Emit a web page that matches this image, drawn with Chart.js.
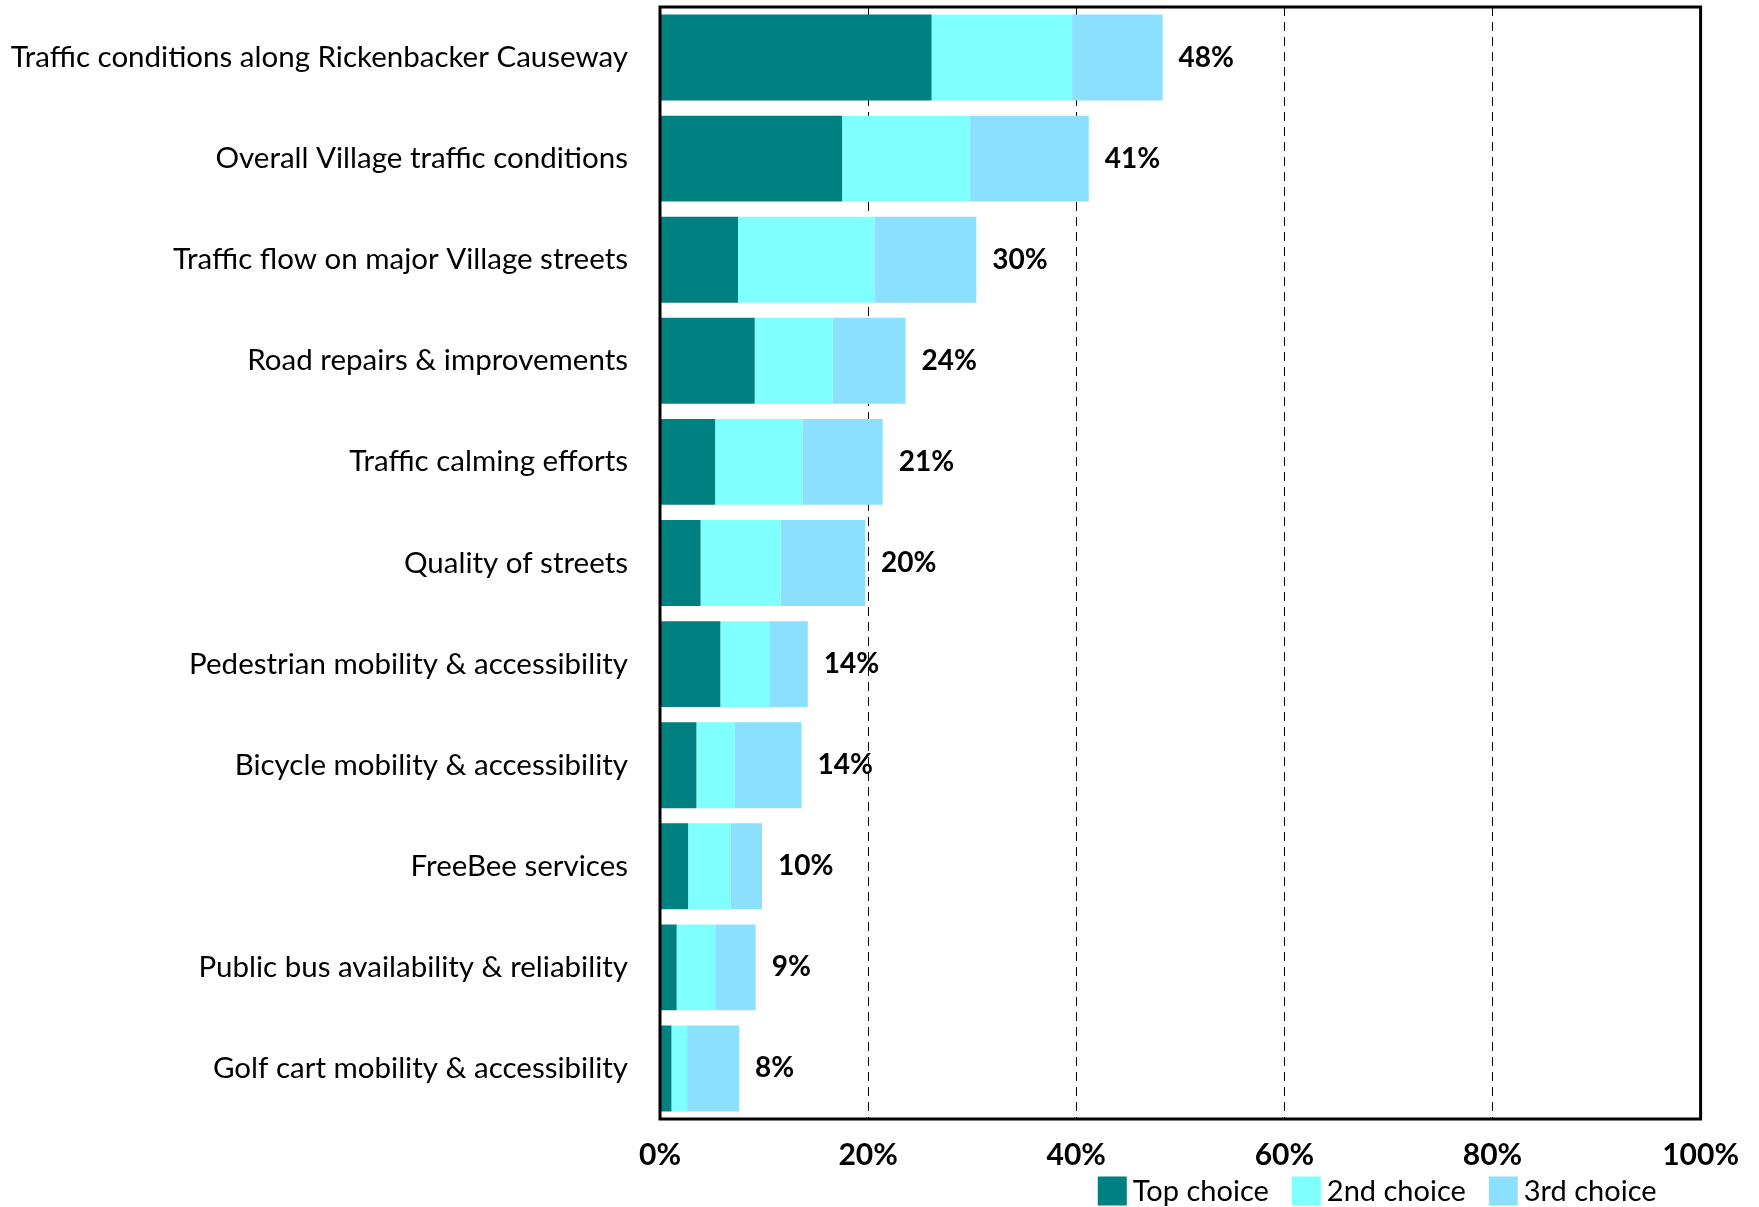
<!DOCTYPE html>
<html>
<head>
<meta charset="utf-8">
<title>Transportation priorities</title>
<script src="https://cdn.jsdelivr.net/npm/chart.js@4.4.1/dist/chart.umd.min.js"></script>
<style>
    html, body { margin: 0; padding: 0; background: #ffffff; }
</style>
</head>
<body>
<canvas id="priorityChart" width="1759" height="1207"></canvas>
<script>
var categories = [
    "Traffic conditions along Rickenbacker Causeway",
    "Overall Village traffic conditions",
    "Traffic flow on major Village streets",
    "Road repairs & improvements",
    "Traffic calming efforts",
    "Quality of streets",
    "Pedestrian mobility & accessibility",
    "Bicycle mobility & accessibility",
    "FreeBee services",
    "Public bus availability & reliability",
    "Golf cart mobility & accessibility"
];
var seriesNames = ["Top choice", "2nd choice", "3rd choice"];
var topChoice    = [26.1, 17.5, 7.5, 9.1, 5.3, 3.9, 5.8, 3.5, 2.7, 1.6, 1.1];
var secondChoice = [13.5, 12.3, 13.1, 7.5, 8.4, 7.7, 4.7, 3.7, 4.1, 3.7, 1.5];
var thirdChoice  = [8.7, 11.4, 9.8, 7.0, 7.7, 8.1, 3.7, 6.4, 3.0, 3.9, 5.0];
var xTicks = [0, 20, 40, 60, 80, 100];

var FONT = "Lato, 'Open Sans', sans-serif";

// total of the three choices for one row, shown at the end of the bar
function rowTotal(i) {
    return topChoice[i] + secondChoice[i] + thirdChoice[i];
}

var totalLabels = {
    id: "totalLabels",
    afterDatasetsDraw: function(chart) {
        var ctx = chart.ctx;
        var meta = chart.getDatasetMeta(chart.data.datasets.length - 1);
        ctx.save();
        ctx.font = "bold 28px " + FONT;
        ctx.fillStyle = "#000000";
        ctx.textAlign = "left";
        ctx.textBaseline = "middle";
        meta.data.forEach(function(bar, i) {
            ctx.fillText(Math.round(rowTotal(i)) + "%", bar.x + 16, bar.y);
        });
        ctx.restore();
    }
};

// black box round the plot area
var plotFrame = {
    id: "plotFrame",
    afterDatasetsDraw: function(chart) {
        var a = chart.chartArea;
        var ctx = chart.ctx;
        ctx.save();
        ctx.strokeStyle = "#000000";
        ctx.lineWidth = 3;
        ctx.strokeRect(a.left, a.top, a.right - a.left, a.bottom - a.top);
        ctx.restore();
    }
};

// legend row under the axis, right side, square swatches
var swatchLegend = {
    id: "swatchLegend",
    afterDraw: function(chart) {
        var ctx = chart.ctx;
        var box = 29;
        var gap = 6;
        var spacing = 23;
        var y = chart.height - 16;
        ctx.save();
        ctx.font = "29px " + FONT;
        ctx.textBaseline = "middle";
        ctx.textAlign = "left";
        var total = 0;
        chart.data.datasets.forEach(function(ds, i) {
            total += box + gap + ctx.measureText(ds.label).width;
            if (i > 0) total += spacing;
        });
        var x = chart.chartArea.right - 44 - total;
        chart.data.datasets.forEach(function(ds) {
            ctx.fillStyle = ds.backgroundColor;
            ctx.fillRect(x, y - box / 2, box, box);
            x += box + gap;
            ctx.fillStyle = "#000000";
            ctx.fillText(ds.label, x, y + 1);
            x += ctx.measureText(ds.label).width + spacing;
        });
        ctx.restore();
    }
};

var ctxPriority = document.getElementById("priorityChart");

new Chart(ctxPriority, {
    type: "bar",
    data: {
        labels: categories,
        datasets: [
            { label: seriesNames[0], data: topChoice, backgroundColor: "#008080", borderWidth: 0 },
            { label: seriesNames[1], data: secondChoice, backgroundColor: "#80FFFF", borderWidth: 0 },
            { label: seriesNames[2], data: thirdChoice, backgroundColor: "#8BE0FF", borderWidth: 0 }
        ]
    },
    options: {
        indexAxis: "y",
        responsive: false,
        animation: false,
        barPercentage: 0.85,
        categoryPercentage: 1.0,
        layout: {
            padding: { top: 7, right: 58, bottom: 15, left: 0 }
        },
        plugins: {
            tooltip: { enabled: false },
            legend: { display: false }
        },
        scales: {
            x: {
                stacked: true,
                min: 0,
                max: 100,
                afterBuildTicks: function(scale) {
                    scale.ticks = xTicks.map(function(v) { return { value: v }; });
                },
                ticks: {
                    padding: 20,
                    color: "#000000",
                    font: { family: FONT, size: 30, weight: "bold", lineHeight: 1.1 },
                    callback: function(value) { return value + "%"; }
                },
                grid: {
                    color: "#000000",
                    lineWidth: 1,
                    drawTicks: false
                },
                border: { display: false, dash: [9, 6] }
            },
            y: {
                stacked: true,
                afterFit: function(scale) {
                    // fixed label column; no extra room above/below the bars
                    scale.width = 660;
                    scale.paddingTop = 0;
                    scale.paddingBottom = 0;
                },
                ticks: {
                    padding: 24,
                    color: "#000000",
                    font: { family: FONT, size: 29.5 }
                },
                grid: { display: false },
                border: { display: false }
            }
        }
    },
    plugins: [totalLabels, plotFrame, swatchLegend]
});
</script>
</body>
</html>
